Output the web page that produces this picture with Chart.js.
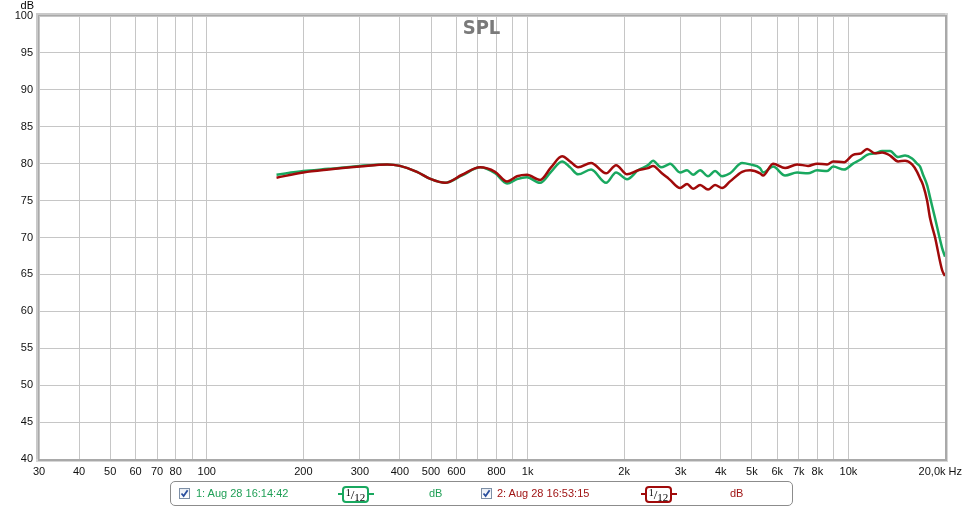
<!DOCTYPE html>
<html><head><meta charset="utf-8">
<script src="https://cdn.jsdelivr.net/npm/chart.js@4.4.0/dist/chart.umd.min.js"></script>
<style>
html,body{margin:0;padding:0;background:#fff;}
#wrap{position:relative;width:963px;height:507px;overflow:hidden;}
#c{position:absolute;left:0;top:0;}
#legend{position:absolute;left:170px;top:481px;width:621px;height:23px;border:1px solid #8c8c8c;border-radius:5px;font-family:'Liberation Sans',Arial,sans-serif;font-size:11px;background:#fff;}
.it{position:absolute;top:0;height:23px;line-height:23px;white-space:nowrap;}
.cb{position:absolute;top:6px;width:9px;height:9px;border:1px solid #7d8fa6;background:linear-gradient(#e9eef5,#ffffff);}
.cb svg{position:absolute;left:0;top:0;}
.sym{position:absolute;top:4px;height:16px;}
.sym .ln{position:absolute;top:7px;height:2px;left:0;right:0;}
.sym .bx{position:absolute;top:0;height:13px;border:2px solid;border-radius:4px;background:#fff;color:#000;font-family:'Liberation Serif','Times New Roman',serif;font-size:13px;line-height:13px;text-align:center;white-space:nowrap;}
.bx sup{font-size:10px;vertical-align:3px;line-height:0;}
.bx sub{font-size:11px;vertical-align:-2px;line-height:0;}
</style>
</head><body>
<div id="wrap">
<canvas id="c" width="963" height="507"></canvas>
<div id="legend"></div>
</div>
<script>
// ---- data ----
const freqHz = [165,200,240,300,365,400,452,500,553,625,711,792,863,927,996,1094,1183,1281,1357,1437,1577,1757,1887,2042,2210,2374,2461,2606,2721,2780,2987,3141,3280,3449,3651,3840,4037,4277,4662,4937,5304,5420,5822,6347,6919,7485,7985,8582,8960,9693,10338,10951,11433,12109,12733,13482,14280,15015,15789,16367,16725,17087,17588,17970,18626,19585,20000];
const splRun1 = [78.5,79.0,79.3,79.7,79.9,79.7,78.9,77.9,77.4,78.4,79.5,78.7,77.3,77.9,78.15,77.4,78.9,80.3,79.5,78.55,79.2,77.4,78.8,77.9,79.1,79.8,80.4,79.5,79.8,80.0,78.8,79.1,78.5,79.1,78.3,79.0,78.3,78.7,80.1,79.9,79.4,78.8,79.6,78.4,78.8,78.7,79.1,79.0,79.6,79.2,80.0,80.6,81.2,81.4,81.7,81.7,80.9,81.1,80.7,80.0,79.6,78.5,77.1,75.4,72.6,68.6,67.4];
const splRun2 = [78.1,78.8,79.2,79.6,79.9,79.7,78.9,77.9,77.4,78.5,79.5,78.9,77.6,78.3,78.5,77.8,79.5,81.0,80.3,79.5,80.1,78.7,79.8,78.55,79.1,79.4,79.7,78.8,78.15,77.8,76.7,77.25,76.6,77.1,76.5,77.1,76.7,77.6,78.9,79.1,78.7,78.4,80.0,79.4,79.9,79.7,80.0,79.9,80.3,80.2,81.2,81.4,82.0,81.4,81.5,81.1,80.3,80.4,79.9,78.9,78.0,77.1,75.0,72.6,70.0,65.6,64.8];
const seriesNames = ['1: Aug 28 16:14:42','2: Aug 28 16:53:15'];
const seriesColors = ['#19a85f','#a00a0a'];
const seriesTextColors = ['#1f9f56','#a01515'];
const xTickValues = [30,40,50,60,70,80,90,100,200,300,400,500,600,700,800,900,1000,2000,3000,4000,5000,6000,7000,8000,9000,10000,20000];
const xTickLabels = ['30','40','50','60','70','80','','100','200','300','400','500','600','','800','','1k','2k','3k','4k','5k','6k','7k','8k','','10k','20,0k Hz'];
const yMin = 40, yMax = 100, yStep = 5;
const titleText = 'SPL';
const yUnit = 'dB';

const FONT = "'Liberation Sans', Arial, sans-serif";

const framePlugin = {
  id: 'frame',
  beforeDraw(chart) {
    // move last x label to the canvas edge, right aligned
    const xs = chart.scales.x;
    const items = xs.getLabelItems(chart.chartArea);
    if (items && items.length) {
      const last = items[items.length - 1];
      last.options.textAlign = 'right';
      last.options.translation[0] = chart.width - 1;
    }
  },
  afterDatasetsDraw(chart) {
    const {ctx, chartArea: a} = chart;
    ctx.save();
    // shaded frame
    ctx.fillStyle = '#c9c9c9';
    ctx.fillRect(a.left - 3, a.top - 3, a.right - a.left + 6, 3);
    ctx.fillRect(a.left - 3, a.top - 3, 3, a.bottom - a.top + 6);
    ctx.fillStyle = '#d6d6d6';
    ctx.fillRect(a.right, a.top - 3, 3, a.bottom - a.top + 6);
    ctx.fillRect(a.left - 3, a.bottom, a.right - a.left + 6, 3);
    ctx.fillStyle = '#a9a9a9';
    ctx.fillRect(a.left - 1, a.top - 1, a.right - a.left + 2, 1);
    ctx.fillRect(a.left - 1, a.top - 1, 1, a.bottom - a.top + 2);
    ctx.fillRect(a.right, a.top - 1, 2, a.bottom - a.top + 2);
    ctx.fillRect(a.left - 1, a.bottom, a.right - a.left + 3, 2);
    // title
    ctx.fillStyle = '#7a7a7a';
    ctx.font = "bold 20px 'DejaVu Sans Condensed', 'Liberation Sans', sans-serif";
    ctx.textAlign = 'center';
    ctx.textBaseline = 'middle';
    ctx.fillText(titleText, chart.width / 2, 29);
    // unit label
    ctx.fillStyle = '#000';
    ctx.font = "11px " + FONT;
    ctx.textAlign = 'right';
    ctx.textBaseline = 'middle';
    ctx.fillText(yUnit, 34, 6);
    ctx.restore();
  }
};

const ctx = document.getElementById('c').getContext('2d');
const datasets = [splRun1, splRun2].map((vals, i) => ({
  label: seriesNames[i],
  data: freqHz.map((f, k) => ({x: f, y: vals[k]})),
  borderColor: seriesColors[i],
  backgroundColor: seriesColors[i],
  borderWidth: 2.5,
  pointRadius: 0,
  fill: false,
  cubicInterpolationMode: 'monotone',
  order: i === 0 ? 2 : 1
}));

new Chart(ctx, {
  type: 'line',
  data: {datasets},
  options: {
    responsive: false,
    animation: false,
    events: [],
    layout: {padding: {left: 0, top: 16, right: 18, bottom: 0}},
    plugins: {legend: {display: false}, tooltip: {enabled: false}, title: {display: false}},
    scales: {
      x: {
        type: 'logarithmic',
        min: 30, max: 20000,
        afterBuildTicks(scale) { scale.ticks = xTickValues.map(v => ({value: v})); },
        afterFit(scale) { scale.height = 48; scale.paddingLeft = 0; scale.paddingRight = 0; },
        ticks: {
          autoSkip: false, maxRotation: 0, minRotation: 0, padding: 6,
          color: '#111', font: {family: FONT, size: 11},
          callback(v, i) { return xTickLabels[i]; }
        },
        grid: {color: '#c6c6c6', lineWidth: 1, drawTicks: false},
        border: {display: false}
      },
      y: {
        min: yMin, max: yMax,
        afterBuildTicks(scale) {
          const t = []; for (let v = yMin; v <= yMax; v += yStep) t.push({value: v});
          scale.ticks = t;
        },
        afterFit(scale) { scale.width = 39; scale.paddingTop = 0; scale.paddingBottom = 0; },
        ticks: {padding: 6, color: '#111', font: {family: FONT, size: 11}},
        grid: {color: '#c6c6c6', lineWidth: 1, drawTicks: false},
        border: {display: false}
      }
    }
  },
  plugins: [framePlugin]
});

// ---- legend (HTML) ----
const lg = document.getElementById('legend');
const slots = [
  {cb: 8, txt: 25, sym: 167, db: 258},
  {cb: 310, txt: 326, sym: 470, db: 559}
];
const checkSvg = '<svg width="9" height="9" viewBox="0 0 9 9"><path d="M1.5 4.5 L3.6 7 L7.6 1.2" stroke="#2a4f9e" stroke-width="1.8" fill="none"/></svg>';
slots.forEach((s, i) => {
  const c = seriesColors[i], tc = seriesTextColors[i];
  lg.insertAdjacentHTML('beforeend',
    `<span class="cb" style="left:${s.cb}px">${checkSvg}</span>` +
    `<span class="it" style="left:${s.txt}px;color:${tc}">${seriesNames[i]}</span>` +
    `<span class="sym" style="left:${s.sym}px;width:36px"><span class="ln" style="background:${c}"></span>` +
    `<span class="bx" style="left:4px;width:23px;border-color:${c}"><sup>1</sup>/<sub>12</sub></span></span>` +
    `<span class="it" style="left:${s.db}px;color:${tc}">dB</span>`);
});
</script>
</body></html>
